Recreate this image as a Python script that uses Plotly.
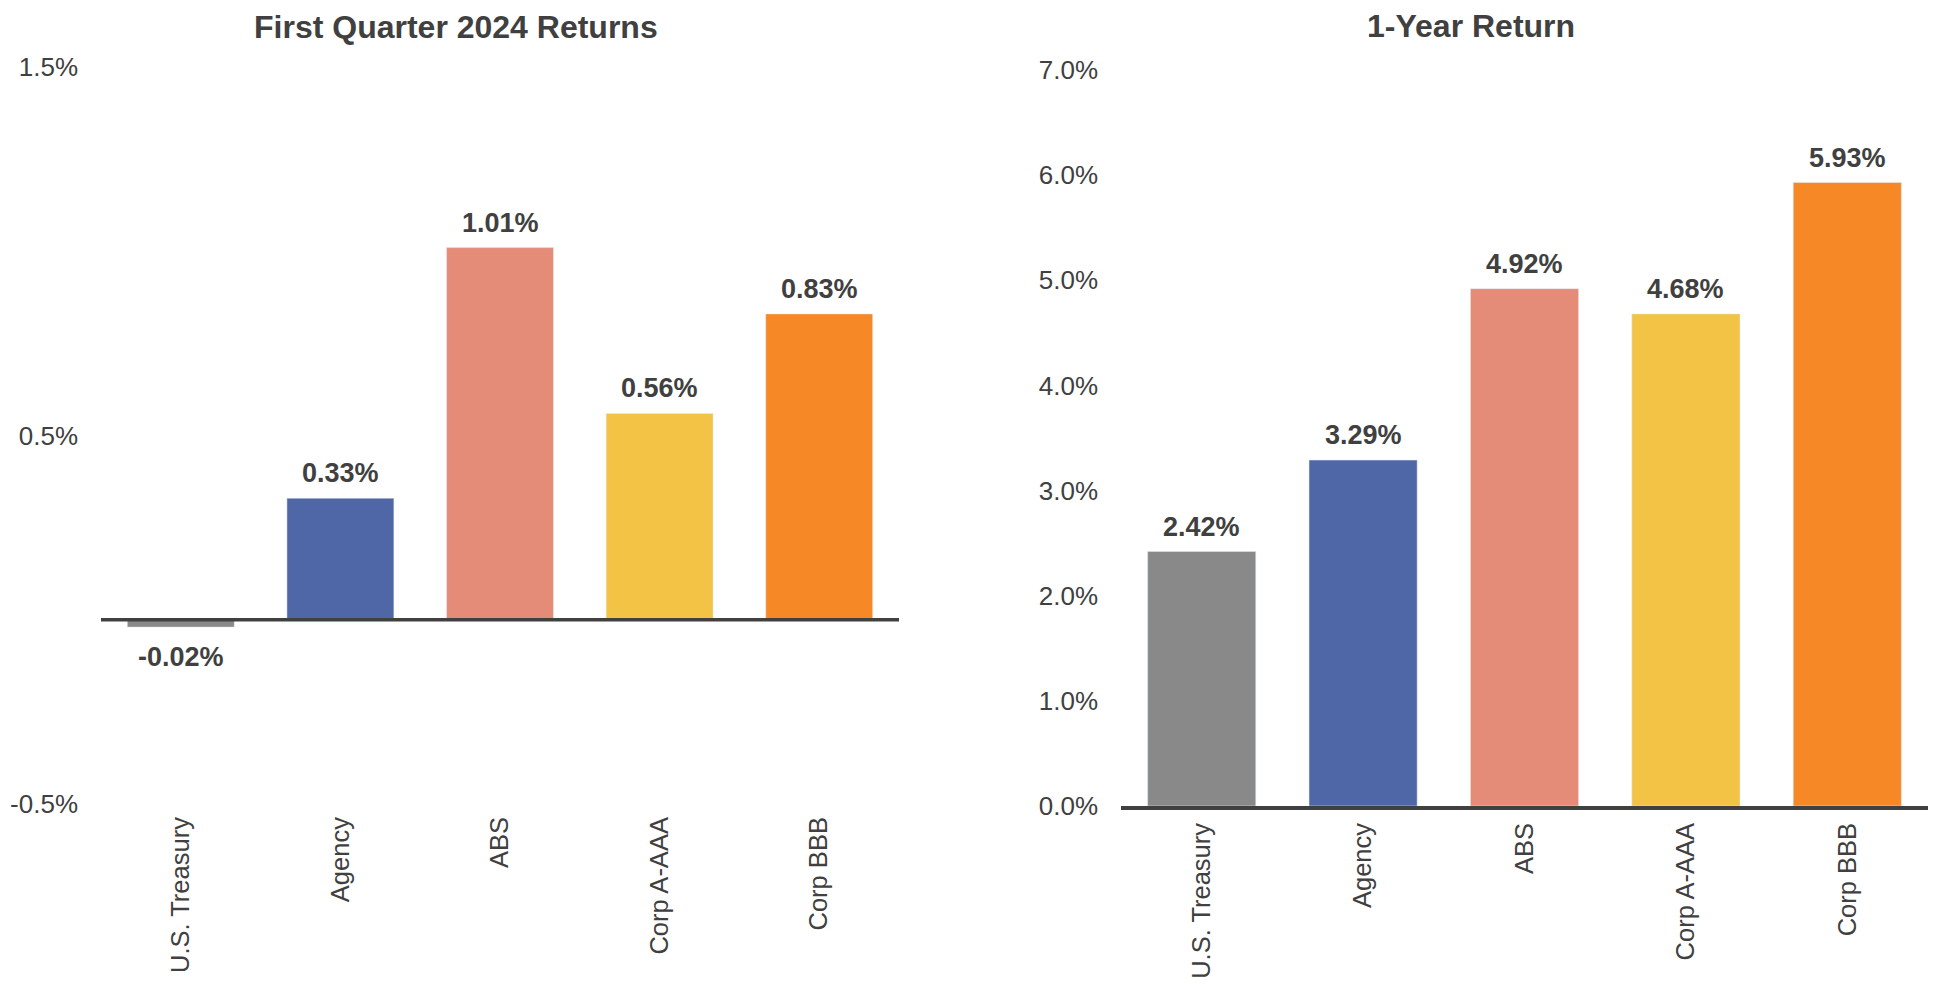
import plotly.graph_objects as go

categories = ["U.S. Treasury", "Agency", "ABS", "Corp A-AAA", "Corp BBB"]
q1_returns = [-0.02, 0.33, 1.01, 0.56, 0.83]
one_year_returns = [2.42, 3.29, 4.92, 4.68, 5.93]
bar_colors = ["#898989", "#4F67A6", "#E58C79", "#F2C344", "#F78826"]

q1_tickvals = [-0.5, 0.5, 1.5]
q1_ticktext = ["-0.5%", "0.5%", "1.5%"]
yr_tickvals = [0, 1, 2, 3, 4, 5, 6, 7]
yr_ticktext = ["0.0%", "1.0%", "2.0%", "3.0%", "4.0%", "5.0%", "6.0%", "7.0%"]

# page body has an 8px margin, so the figure is a bit smaller than the window
OFF = 8
W, H = 1939 - 2 * OFF, 989 - 2 * OFF
TXT = "#404040"
FONT = "Liberation Sans, Arial, sans-serif"


def px_x(v):
    return (v - OFF) / W


def px_y(v):
    return 1 - (v - OFF) / H


fig = go.Figure()

fig.add_trace(go.Bar(x=categories, y=q1_returns, marker_color=bar_colors,
                     xaxis="x", yaxis="y", showlegend=False))
fig.add_trace(go.Bar(x=categories, y=one_year_returns, marker_color=bar_colors,
                     xaxis="x2", yaxis="y2", showlegend=False))

# value labels above / below each bar
annotations = []
for xa, ya, vals in [("x", "y", q1_returns), ("x2", "y2", one_year_returns)]:
    for c, v in zip(categories, vals):
        annotations.append(dict(
            x=c, y=v, xref=xa, yref=ya, text=f"<b>{v:.2f}%</b>", showarrow=False,
            yanchor="middle", yshift=25 if v >= 0 else -30,
            font=dict(size=27, color=TXT, family=FONT)))

# chart titles
annotations.append(dict(x=px_x(456), y=px_y(27), xref="paper", yref="paper",
                        text="<b>First Quarter 2024 Returns</b>", showarrow=False,
                        xanchor="center", yanchor="middle",
                        font=dict(size=32, color=TXT, family=FONT)))
annotations.append(dict(x=px_x(1471), y=px_y(26), xref="paper", yref="paper",
                        text="<b>1-Year Return</b>", showarrow=False,
                        xanchor="center", yanchor="middle",
                        font=dict(size=32, color=TXT, family=FONT)))

# baseline at zero drawn over bars (left chart; right chart uses its axis line)
shapes = [
    dict(type="line", xref="x domain", yref="y", x0=0, x1=1, y0=0, y1=0,
         line=dict(color=TXT, width=3.5), layer="above"),
]

tick_font = dict(size=26, color=TXT, family=FONT)
cat_font = dict(size=25.5, color=TXT, family=FONT)

fig.update_layout(
    width=W, height=H,
    margin=dict(l=0, r=0, t=0, b=0),
    paper_bgcolor="white", plot_bgcolor="white",
    bargap=0.33,
    font=dict(family=FONT, color=TXT),
    annotations=annotations,
    shapes=shapes,
    xaxis=dict(domain=[px_x(101), px_x(899)], anchor="y", tickangle=-90,
               showgrid=False, zeroline=False, showline=False, ticks="",
               tickfont=cat_font, ticklabelstandoff=7, automargin=False),
    yaxis=dict(domain=[px_y(804), px_y(67)], anchor="x", range=[-0.5, 1.5],
               tickvals=q1_tickvals, ticktext=q1_ticktext, showgrid=False,
               zeroline=False, showline=False, ticks="", tickfont=tick_font,
               ticklabelstandoff=22, automargin=False),
    xaxis2=dict(domain=[px_x(1121), px_x(1928)], anchor="y2", tickangle=-90,
                showgrid=False, zeroline=False, showline=True, linewidth=3.5,
                linecolor=TXT, ticks="", tickfont=cat_font,
                ticklabelstandoff=3, automargin=False),
    yaxis2=dict(domain=[px_y(806), px_y(70)], anchor="x2", range=[0, 7],
                tickvals=yr_tickvals, ticktext=yr_ticktext, showgrid=False,
                zeroline=False, showline=False, ticks="", tickfont=tick_font,
                ticklabelstandoff=22, automargin=False),
)

fig.write_html("out.html")
